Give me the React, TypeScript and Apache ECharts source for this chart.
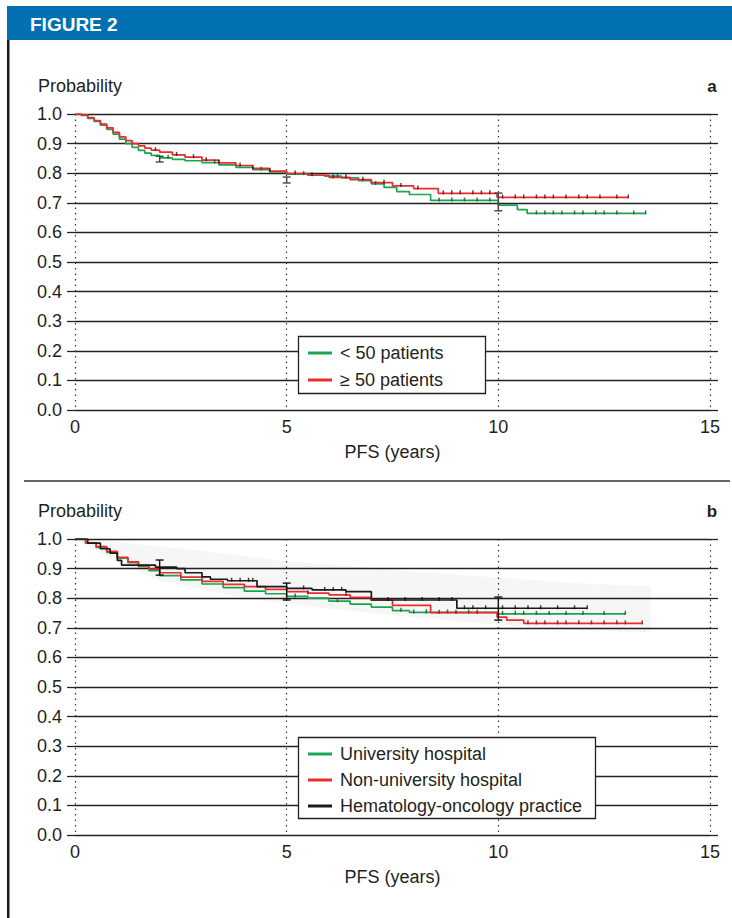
import React, { useEffect, useRef } from "react";
import * as echarts from "echarts";

// ---------- data ----------
const X_TICK_INTERVAL = 5;
const X_MAX = 15;
const Y_TICK_INTERVAL = 0.1;

const A_NAMES = ["< 50 patients", "≥ 50 patients"];
const A_LT50: [number, number][] = [
  [0, 1.0], [0.15, 0.995], [0.3, 0.985], [0.45, 0.975], [0.6, 0.962], [0.75, 0.948],
  [0.9, 0.932], [1.05, 0.915], [1.2, 0.9], [1.35, 0.887], [1.5, 0.877], [1.65, 0.868],
  [1.8, 0.86], [2.0, 0.852], [2.3, 0.847], [2.6, 0.842], [3.0, 0.836], [3.4, 0.828],
  [3.8, 0.82], [4.2, 0.812], [4.6, 0.804], [5.0, 0.797], [5.5, 0.794], [5.9, 0.79],
  [6.3, 0.784], [6.7, 0.775], [7.0, 0.764], [7.3, 0.752], [7.6, 0.738], [7.9, 0.728],
  [8.4, 0.708], [10.0, 0.692], [10.45, 0.677], [10.68, 0.664], [13.48, 0.664],
];
const A_GE50: [number, number][] = [
  [0, 1.0], [0.15, 0.996], [0.3, 0.988], [0.45, 0.978], [0.6, 0.966], [0.75, 0.953],
  [0.9, 0.938], [1.05, 0.923], [1.2, 0.91], [1.35, 0.9], [1.5, 0.892], [1.65, 0.885],
  [1.8, 0.878], [2.0, 0.871], [2.3, 0.862], [2.6, 0.854], [3.0, 0.844], [3.4, 0.835],
  [3.8, 0.826], [4.2, 0.816], [4.6, 0.807], [5.0, 0.799], [5.5, 0.793], [6.0, 0.786],
  [6.5, 0.778], [7.0, 0.768], [7.5, 0.757], [8.0, 0.748], [8.58, 0.732], [9.97, 0.718],
  [13.07, 0.718],
];
const A_LT50_CENSOR = [2.2, 3.3, 4.4, 5.4, 6.2, 7.1, 8.6, 8.9, 9.2, 9.5, 9.8, 10.9, 11.1, 11.3, 11.5, 11.8, 12.0, 12.3, 12.5, 12.8, 13.2, 13.48];
const A_GE50_CENSOR = [1.9, 2.4, 2.8, 3.1, 3.4, 3.9, 4.2, 4.6, 5.2, 5.6, 6.1, 6.4, 6.8, 7.3, 7.7, 8.1, 8.7, 8.9, 9.1, 9.4, 9.6, 9.8, 10.1, 10.4, 10.6, 10.9, 11.1, 11.3, 11.6, 11.9, 12.1, 12.4, 12.8, 13.07];
const A_ERRORBARS: [number, number, number][] = [[2, 0.838, 0.857], [5, 0.767, 0.787], [10, 0.673, 0.733]];

const B_NAMES = ["University hospital", "Non-university hospital", "Hematology-oncology practice"];
const B_UNIV: [number, number][] = [
  [0, 1.0], [0.25, 0.986], [0.5, 0.972], [0.75, 0.955], [1.0, 0.935], [1.25, 0.92],
  [1.5, 0.907], [1.75, 0.893], [2.0, 0.876], [2.5, 0.862], [3.0, 0.848], [3.5, 0.836],
  [4.0, 0.824], [4.5, 0.815], [5.0, 0.806], [5.5, 0.8], [6.0, 0.79], [6.5, 0.78],
  [7.0, 0.77], [7.5, 0.758], [7.9, 0.752], [10.0, 0.747], [13.0, 0.747],
];
const B_NONUNIV: [number, number][] = [
  [0, 1.0], [0.25, 0.987], [0.5, 0.974], [0.75, 0.958], [1.0, 0.938], [1.25, 0.923],
  [1.5, 0.91], [1.75, 0.898], [2.0, 0.886], [2.5, 0.871], [3.0, 0.857], [3.5, 0.847],
  [4.0, 0.839], [4.5, 0.83], [5.0, 0.822], [5.5, 0.817], [6.0, 0.811], [6.5, 0.803],
  [7.0, 0.794], [7.5, 0.776], [8.4, 0.751], [9.97, 0.736], [10.2, 0.726], [10.6, 0.715],
  [13.4, 0.715],
];
const B_HEMONC: [number, number][] = [
  [0, 1.0], [0.3, 0.986], [0.6, 0.967], [0.83, 0.952], [1.0, 0.928], [1.1, 0.912],
  [1.9, 0.905], [2.4, 0.9], [2.6, 0.886], [3.0, 0.872], [3.2, 0.864], [3.6, 0.859],
  [4.3, 0.839], [5.0, 0.833], [5.6, 0.828], [6.4, 0.822], [7.0, 0.794], [9.02, 0.766],
  [12.1, 0.766],
];
const B_UNIV_CENSOR = [5.2, 6.2, 7.7, 8.0, 8.3, 8.8, 9.3, 10.1, 10.4, 10.6, 10.9, 11.2, 11.6, 12.0, 12.5, 13.0];
const B_NONUNIV_CENSOR = [5.5, 6.4, 7.0, 8.6, 9.0, 9.5, 10.7, 10.9, 11.1, 11.4, 11.6, 11.9, 12.2, 12.5, 12.8, 13.0, 13.4];
const B_HEMONC_CENSOR = [3.7, 3.9, 4.1, 4.2, 5.4, 5.9, 6.1, 6.3, 7.4, 7.8, 8.2, 8.6, 8.9, 9.2, 9.4, 9.7, 10.1, 10.4, 10.7, 11.0, 11.4, 11.8, 12.1];
const B_ERRORBARS: [number, number, number][] = [[2, 0.878, 0.929], [5, 0.794, 0.851], [10, 0.726, 0.804]];
const B_BAND_UPPER: [number, number][] = [[0, 1.0], [1, 0.99], [2, 0.975], [3, 0.96], [5, 0.925], [8, 0.89], [10, 0.87], [12, 0.85], [13.6, 0.84]];
const B_BAND_LOWER: [number, number][] = [[0, 1.0], [1, 0.92], [2, 0.86], [4, 0.8], [6, 0.765], [8, 0.735], [10, 0.71], [12, 0.69], [13.6, 0.685]];

// ---------- styling ----------
const FONT = "'Liberation Sans', Arial, Helvetica, sans-serif";
const TEXT = "#231f20";
const GREEN = "#1aa550";
const RED = "#ec2a2f";
const BLACK = "#1a1a1a";

function stepAt(curve: [number, number][], t: number) {
  let s = curve[0][1];
  for (const [x, y] of curve) {
    if (x <= t) s = y;
    else break;
  }
  return s;
}

function kmSeries(name: string, data: [number, number][], color: string, xi: number, yi: number, z = 3) {
  return {
    name, type: "line", step: "end", xAxisIndex: xi, yAxisIndex: yi, data,
    showSymbol: false, symbol: "none", z,
    lineStyle: { color, width: 1.7 }, itemStyle: { color },
  };
}

function censorSeries(curve: [number, number][], times: number[], color: string, xi: number, yi: number) {
  return {
    type: "scatter", xAxisIndex: xi, yAxisIndex: yi, z: 4, silent: true,
    symbol: "rect", symbolSize: [1.5, 4], symbolOffset: [0, -1],
    itemStyle: { color },
    data: times.map((t) => [t, stepAt(curve, t)]),
  };
}

function errorBarSeries(data: [number, number, number][], color: string, xi: number, yi: number) {
  return {
    type: "custom", xAxisIndex: xi, yAxisIndex: yi, z: 5, silent: true,
    data, encode: { x: 0, y: [1, 2] },
    renderItem: (_p: any, api: any) => {
      const x = api.value(0), lo = api.value(1), hi = api.value(2);
      const p1 = api.coord([x, lo]);
      const p2 = api.coord([x, hi]);
      const w = 4;
      const style = { stroke: color, lineWidth: 1.4 };
      return {
        type: "group",
        children: [
          { type: "line", shape: { x1: p1[0], y1: p1[1], x2: p2[0], y2: p2[1] }, style },
          { type: "line", shape: { x1: p1[0] - w, y1: p1[1], x2: p1[0] + w, y2: p1[1] }, style },
          { type: "line", shape: { x1: p2[0] - w, y1: p2[1], x2: p2[0] + w, y2: p2[1] }, style },
        ],
      };
    },
  };
}

function xAxisDef(gridIndex: number) {
  return {
    type: "value", gridIndex, min: 0, max: X_MAX, interval: X_TICK_INTERVAL,
    name: "PFS (years)", nameLocation: "middle", nameGap: 33,
    nameTextStyle: { fontSize: 18, color: TEXT, fontFamily: FONT },
    axisLine: { show: false }, axisTick: { show: false },
    axisLabel: { fontSize: 18, color: TEXT, fontFamily: FONT, margin: 8 },
    splitLine: { show: true, lineStyle: { color: "#333", width: 1.2, type: [1.5, 4] } },
  };
}

function yAxisLeft(gridIndex: number) {
  return {
    type: "value", gridIndex, min: 0, max: 1, interval: Y_TICK_INTERVAL, position: "left",
    axisLine: { show: false },
    axisTick: { show: true, length: 8, lineStyle: { color: "#222", width: 1.3 } },
    axisLabel: { fontSize: 18, color: TEXT, fontFamily: FONT, margin: 13, formatter: (v: number) => v.toFixed(1) },
    splitLine: { show: true, lineStyle: { color: "#222", width: 1.3 } },
  };
}

function yAxisRight(gridIndex: number) {
  return {
    type: "value", gridIndex, min: 0, max: 1, interval: Y_TICK_INTERVAL, position: "right",
    axisLine: { show: false },
    axisTick: { show: true, length: 8, lineStyle: { color: "#222", width: 1.3 } },
    axisLabel: { show: false },
    splitLine: { show: false },
  };
}

function legendDef(names: string[], top: number, gap: number) {
  return {
    data: names, orient: "vertical", left: 308, top, itemGap: gap,
    icon: "rect", itemWidth: 24, itemHeight: 3, padding: 0, selectedMode: false,
    textStyle: { fontSize: 18, color: TEXT, fontFamily: FONT, lineHeight: 20, padding: [0, 0, 0, 3] },
  };
}

function label(text: string, x: number, y: number, font: string, fill = TEXT, align = "left") {
  return {
    type: "text", z: 10,
    style: { text, x, y, font, fill, textAlign: align, align, textVerticalAlign: "middle", verticalAlign: "middle" },
  };
}

export default function App() {
  const ref = useRef<HTMLDivElement>(null);
  useEffect(() => {
    if (!ref.current) return;
    const chart = echarts.init(ref.current, undefined, { renderer: "svg" });
    const option: any = {
      animation: false,
      backgroundColor: "#ffffff",
      grid: [
        { left: 75, top: 114, width: 635, height: 296 },
        { left: 75, top: 539, width: 635, height: 296 },
      ],
      xAxis: [xAxisDef(0), xAxisDef(1)],
      yAxis: [yAxisLeft(0), yAxisRight(0), yAxisLeft(1), yAxisRight(1)],
      legend: [legendDef(A_NAMES, 343, 7), legendDef(B_NAMES, 744, 6)],
      series: [
        {
          type: "custom", xAxisIndex: 1, yAxisIndex: 2, z: 1, silent: true,
          data: [[0, 1]], encode: { x: 0, y: 1 },
          renderItem: (_p: any, api: any) => {
            const pts = B_BAND_UPPER.map((p) => api.coord(p)).concat(
              B_BAND_LOWER.slice().reverse().map((p) => api.coord(p))
            );
            return { type: "polygon", shape: { points: pts }, style: { fill: "rgba(0,0,0,0.035)" } };
          },
        },
        kmSeries(A_NAMES[0], A_LT50, GREEN, 0, 0, 3),
        kmSeries(A_NAMES[1], A_GE50, RED, 0, 0, 3),
        censorSeries(A_LT50, A_LT50_CENSOR, "#1f4d33", 0, 0),
        censorSeries(A_GE50, A_GE50_CENSOR, "#3a1414", 0, 0),
        errorBarSeries(A_ERRORBARS, "#444", 0, 0),
        kmSeries(B_NAMES[0], B_UNIV, GREEN, 1, 2, 3),
        kmSeries(B_NAMES[1], B_NONUNIV, RED, 1, 2, 3),
        kmSeries(B_NAMES[2], B_HEMONC, BLACK, 1, 2, 3),
        censorSeries(B_UNIV, B_UNIV_CENSOR, "#1f4d33", 1, 2),
        censorSeries(B_NONUNIV, B_NONUNIV_CENSOR, "#7a1515", 1, 2),
        censorSeries(B_HEMONC, B_HEMONC_CENSOR, "#111", 1, 2),
        errorBarSeries(B_ERRORBARS, "#111", 1, 2),
      ],
      graphic: [
        { type: "rect", z: 0, shape: { x: 7, y: 6, width: 725, height: 34 }, style: { fill: "#0070b3" } },
        { type: "rect", z: 0, shape: { x: 7, y: 40, width: 2.5, height: 878 }, style: { fill: "#1a1a1a" } },
        label("FIGURE 2", 30, 24, `bold 19px ${FONT}`, "#ffffff"),
        label("Probability", 38, 86, `18px ${FONT}`),
        label("a", 712, 86, `bold 17px ${FONT}`, TEXT, "center"),
        { type: "line", z: 0, shape: { x1: 24, y1: 481, x2: 730, y2: 481 }, style: { stroke: "#333", lineWidth: 1.5 } },
        label("Probability", 38, 511, `18px ${FONT}`),
        label("b", 712, 511, `bold 17px ${FONT}`, TEXT, "center"),
        { type: "rect", z: 3, shape: { x: 298.5, y: 336.5, width: 187, height: 57 }, style: { fill: "#fff", stroke: "#222", lineWidth: 1.3 } },
        { type: "rect", z: 3, shape: { x: 298.5, y: 737.5, width: 297, height: 81 }, style: { fill: "#fff", stroke: "#222", lineWidth: 1.3 } },
      ],
    };
    chart.setOption(option);
    return () => chart.dispose();
  }, []);
  return (
    <div
      ref={ref}
      style={{ position: "absolute", left: 0, top: 0, width: 732, height: 918, background: "#fff" }}
    />
  );
}
